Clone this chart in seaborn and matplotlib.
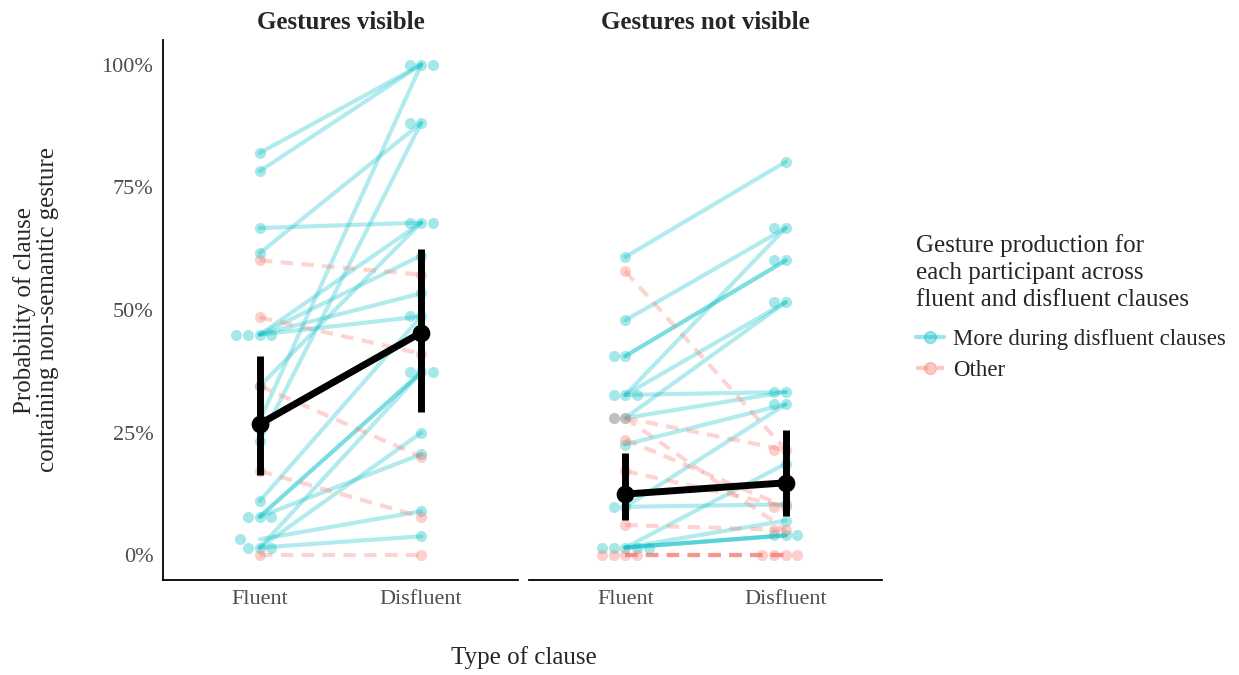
import numpy as np
import pandas as pd
import matplotlib
matplotlib.use("Agg")
import matplotlib.pyplot as plt
from matplotlib.lines import Line2D
import seaborn as sns

# ---------------- data ----------------
clause_types = ["Fluent", "Disfluent"]
panels = ["Gestures visible", "Gestures not visible"]
groups = ["More during disfluent clauses", "Other"]

vis_more_fluent = [82.0, 78.3, 61.6, 66.7, 45.0, 45.0, 45.0, 45.0, 34.5, 27.5, 23.4, 11.1, 7.9, 7.9, 7.9, 1.6, 1.6, 1.6, 3.3]
vis_more_disfl = [100.0, 100.0, 88.1, 67.8, 67.8, 61.1, 53.4, 48.7, 67.8, 100.0, 88.1, 48.7, 37.3, 37.3, 20.6, 37.3, 25.0, 3.9, 9.0]
vis_other_fluent = [60.1, 48.5, 34.5, 17.2, 0.0]
vis_other_disfl = [57.2, 41.1, 20.1, 7.9, 0.0]

nov_more_fluent = [60.8, 47.9, 32.7, 40.6, 40.6, 32.7, 28.0, 32.7, 28.0, 22.6, 9.9, 9.9, 1.6, 1.6, 1.6, 1.6, 1.6]
nov_more_disfl = [80.2, 66.7, 66.7, 60.1, 60.1, 51.6, 51.6, 33.3, 33.3, 30.8, 30.8, 10.4, 18.7, 7.1, 4.1, 4.1, 4.1]
nov_other_fluent = [57.9, 28.0, 28.0, 23.6, 17.2, 6.2, 0.0, 0.0, 0.0, 0.0]
nov_other_disfl = [21.5, 21.5, 5.2, 9.9, 9.9, 5.2, 0.0, 0.0, 0.0, 0.0]

vis_mean = [26.8, 45.4]
vis_lo = [16.3, 29.2]
vis_hi = [40.7, 62.5]
nov_mean = [12.5, 14.8]
nov_lo = [7.2, 8.1]
nov_hi = [20.9, 25.5]

# ---------------- build long table ----------------
rows = []
pid = 0
for panel, sets in [
    (panels[0], [(groups[0], vis_more_fluent, vis_more_disfl), (groups[1], vis_other_fluent, vis_other_disfl)]),
    (panels[1], [(groups[0], nov_more_fluent, nov_more_disfl), (groups[1], nov_other_fluent, nov_other_disfl)]),
]:
    for grp, fl, di in sets:
        for a, b in zip(fl, di):
            rows.append(dict(panel=panel, group=grp, pid=pid, clause="Fluent", xnum=0, value=a))
            rows.append(dict(panel=panel, group=grp, pid=pid, clause="Disfluent", xnum=1, value=b))
            pid += 1
df = pd.DataFrame(rows)

summ = pd.DataFrame({
    "panel": [panels[0]] * 2 + [panels[1]] * 2,
    "clause": clause_types * 2,
    "mean": vis_mean + nov_mean,
    "lo": vis_lo + nov_lo,
    "hi": vis_hi + nov_hi,
})

# ---------------- style ----------------
sns.set_theme(style="white")
plt.rcParams["font.family"] = ["Liberation Serif", "DejaVu Serif"]
plt.rcParams["axes.unicode_minus"] = False

teal = "#00BFC4"
salmon = "#F8766D"
palette = {groups[0]: teal, groups[1]: salmon}
dashes = {groups[0]: "", groups[1]: (3, 2)}

fig = plt.figure(figsize=(12.39, 6.75), dpi=100)
ax_pos = [[163 / 1239, 95 / 675, 355 / 1239, 540 / 675],
          [529 / 1239, 95 / 675, 353 / 1239, 540 / 675]]
axes = [fig.add_axes(p) for p in ax_pos]

for i, (ax, panel) in enumerate(zip(axes, panels)):
    d = df[df.panel == panel]
    sns.lineplot(data=d, x="xnum", y="value", hue="group", style="group",
                 units="pid", estimator=None, palette=palette, dashes=dashes,
                 linewidth=3, alpha=0.3, legend=False, ax=ax, zorder=2)
    for grp in groups:
        dg = d[d.group == grp]
        sns.swarmplot(data=dg, x="clause", y="value", order=clause_types,
                      color=palette[grp], size=8, alpha=0.35,
                      linewidth=0, legend=False, ax=ax, zorder=3, warn_thresh=1)
    s = summ[summ.panel == panel]
    sns.pointplot(data=s, x="clause", y="mean", order=clause_types, color="black",
                  errorbar=None, markersize=9, linewidth=5, ax=ax, zorder=5)
    ax.vlines(np.arange(len(clause_types)), s["lo"], s["hi"], color="black",
              linewidth=5, zorder=5)

    ax.set_xlim(-0.6, 1.6)
    ax.set_ylim(-5, 105)
    ax.set_yticks([0, 25, 50, 75, 100])
    ax.set_xticks([0, 1])
    ax.set_xticklabels(clause_types)
    ax.set_xlabel("")
    ax.set_ylabel("")
    ax.set_title(panel, fontsize=18, fontweight="bold", pad=8)
    ax.tick_params(axis="both", length=0, labelsize=16, colors="#4d4d4d", pad=7)
    for sp in ["top", "right"]:
        ax.spines[sp].set_visible(False)
    ax.spines["bottom"].set_color("black")
    ax.spines["bottom"].set_linewidth(1.3)
    if i == 0:
        ax.set_yticklabels(["0%", "25%", "50%", "75%", "100%"])
        ax.spines["left"].set_color("black")
        ax.spines["left"].set_linewidth(1.3)
    else:
        ax.spines["left"].set_visible(False)
        ax.set_yticklabels([])
    ax.grid(False)

fig.text(524 / 1239, 1 - 658 / 675, "Type of clause", ha="center", va="center", fontsize=18)
fig.text(36 / 1239, 1 - 310 / 675, "Probability of clause\ncontaining non-semantic gesture",
         ha="center", va="center", rotation=90, fontsize=18, linespacing=1.1)

handles = [
    Line2D([], [], color=teal, alpha=0.4, lw=3, marker="o", markersize=8.5, linestyle="-"),
    Line2D([], [], color=salmon, alpha=0.4, lw=3, marker="o", markersize=8.5, linestyle=(0, (3, 2))),
]
leg = fig.legend(handles, groups, loc="upper left", bbox_to_anchor=(895 / 1239, 1 - 213 / 675),
                 frameon=False, fontsize=16.5, title_fontsize=18,
                 title="Gesture production for\neach participant across\nfluent and disfluent clauses",
                 handlelength=1.25, handletextpad=0.4, labelspacing=0.45, alignment="left")
leg.get_title().set_linespacing(1.3)
leg._legend_box.sep = 13

fig.savefig("out.png", dpi=100, facecolor="white")
